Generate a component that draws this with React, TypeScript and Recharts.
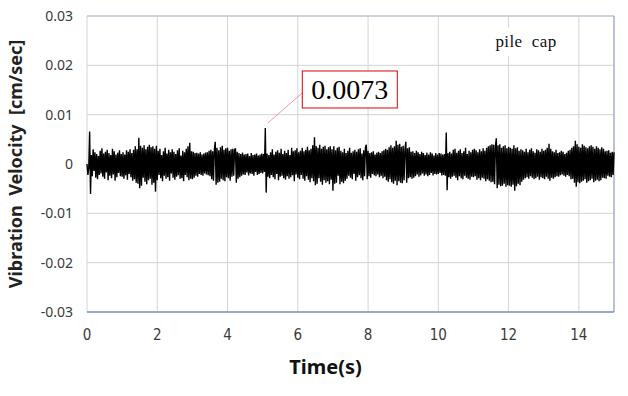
import React from "react";
import { LineChart, Line, XAxis, YAxis, CartesianGrid, ReferenceLine, ReferenceDot } from "recharts";

// Sampling interval of the record (s)
const SAMPLE_INTERVAL = 0.025;

// Vibration velocity, in units of 1e-4 cm/sec, one array per second of record
const sec00 = [0, -22, -8, 66, -61, 18, -25, 30, -14, 24, -28, 20, -31, 16, -22, 27, -19, 32, -26, 21, -30, 25, -17, 29, -33, 22, -24, 18, -29, 31, -21, 26, -34, 19, -27, 23, -18, 28, -25, 20];
const sec01 = [-26, 24, -30, 19, -23, 28, -32, 25, -20, 30, -27, 22, -34, 29, -31, 36, -38, 30, -40, 53, -49, 37, -44, 33, -28, 38, -36, 30, -41, 35, -33, 39, -30, 34, -42, 36, -38, 31, -56, 37];
const sec02 = [-33, 27, -22, 31, -29, 18, -35, 26, -24, 33, -30, 21, -27, 29, -34, 24, -19, 30, -28, 25, -32, 20, -26, 28, -23, 32, -30, 17, -29, 27, -35, 24, -22, 31, -27, 36, -33, 43, -30, 26];
const sec03 = [-31, 25, -28, 22, -24, 23, -26, 21, -20, 24, -22, 19, -24, 21, -19, 23, -21, 24, -23, 27, -25, 29, -31, 26, -34, 30, 45, -42, 33, -38, 28, -36, 34, -30, 37, -33, 29, -35, 32, -27];
const sec04 = [33, -29, 27, -34, 30, -26, 31, -24, 28, 32, -38, 25, -30, 22, -27, 20, -24, 23, -21, 19, -22, 20, -17, 21, -23, 16, -19, 22, -20, 18, -24, 19, -16, 21, -22, 17, -20, 19, -18, 21];
const sec05 = [-19, 20, -16, 73, -58, 21, -26, 18, -29, 24, -22, 30, -27, 19, -31, 25, -20, 28, -33, 23, -26, 31, -24, 20, -29, 27, -32, 22, -25, 29, -30, 18, -27, 33, -23, 26, -35, 28, -21, 32];
const sec06 = [-28, 24, -31, 27, -22, 33, -30, 26, -34, 29, -25, 35, -32, 28, -37, 31, -29, 38, -35, 54, -43, 36, -40, 33, -29, 39, -36, 31, -42, 35, -33, 37, -38, 30, -35, 34, -41, 36, -32, 30];
const sec07 = [-54, 36, -40, 28, -38, 33, -24, 35, -41, 27, -36, 24, -39, 31, -34, 22, -30, 27, -24, 33, -28, 23, -31, 26, -20, 29, -34, 25, -27, 30, -23, 32, -29, 21, -33, 28, -25, 34, 39, -31];
const sec08 = [27, -25, 22, -28, 24, -20, 26, -23, 19, -25, 23, -21, 25, -27, 22, -24, 26, -29, 28, -26, 31, -33, 29, -36, 34, -31, 38, -37, 33, -40, 36, -34, 47, -43, 39, -35, 41, -38, 35, -39];
const sec09 = [37, -33, 30, 45, -38, 32, -29, 34, -27, 25, -30, 26, -28, 22, -25, 27, -21, 24, -26, 20, -23, 25, -19, 22, -24, 18, -21, 23, -25, 19, -22, 24, -18, 21, -23, 17, -20, 22, -21, 19];
const sec10 = [-20, 22, -18, 21, -23, 19, -22, 20, -24, 64, -53, 22, -27, 25, -30, 21, -26, 29, -24, 31, -28, 23, -33, 27, -25, 30, -29, 22, -31, 26, -24, 33, -28, 20, -30, 27, -32, 24, -26, 29];
const sec11 = [-27, 31, -25, 28, -32, 24, -29, 30, -33, 26, -28, 32, -30, 27, -35, 33, -31, 36, -34, 38, -37, 40, -36, 39, -41, 35, 52, -49, 38, -42, 40, -45, 33, -44, 36, -40, 38, -46, 32, -43];
const sec12 = [35, -44, 33, -46, 31, -42, 38, -54, 32, -45, 34, -40, 27, -43, 30, -36, 28, -32, 25, -29, 31, -27, 24, -30, 29, -25, 32, -28, 26, -31, 23, -29, 30, -26, 28, -32, 25, -27, 31, -29];
const sec13 = [27, -31, 29, -26, 33, -30, 41, -34, 31, -28, 26, -30, 24, -27, 29, -25, 22, -26, 24, -23, 27, -21, 25, -24, 20, -26, 23, -22, 27, -25, 29, -31, 33, -30, 36, -38, 47, -46, 40, -37];
const sec14 = [35, -39, 33, -36, 40, -34, 37, -31, 34, -38, 32, -35, 36, -33, 38, -30, 35, -37, 31, -34, 36, -32, 33, -35, 30, -33, 34, -28, 31, -29, 26, -30, 27, -24, 28, -26, 23, -27, 25, -22];
const sec15 = [24];

const xTicks = [0, 2, 4, 6, 8, 10, 12, 14];
const yTicks = [-0.03, -0.02, -0.01, 0, 0.01, 0.02, 0.03];
const yTickLabels = ["-0.03", "-0.02", "-0.01", "0", "0.01", "0.02", "0.03"];

// Annotated peak
const peakTime = 5.075;
const peakValue = 0.0073;
const peakLabel = "0.0073";
const locationLabel = "pile\u00a0\u00a0cap";

const velocityE4 = [
  ...sec00, ...sec01, ...sec02, ...sec03, ...sec04, ...sec05, ...sec06, ...sec07,
  ...sec08, ...sec09, ...sec10, ...sec11, ...sec12, ...sec13, ...sec14, ...sec15,
];

const data = velocityE4.map((v, i) => ({
  t: Math.round(i * SAMPLE_INTERVAL * 1000) / 1000,
  v: v / 10000,
}));

const yFmt = (v: number) => {
  const idx = yTicks.findIndex((t) => Math.abs(t - v) < 1e-9);
  return idx >= 0 ? yTickLabels[idx] : String(v);
};

const PeakCallout = (props: any) => {
  const vb = props.viewBox || {};
  const px = vb.x + (vb.width || 0) / 2;
  const py = vb.y + (vb.height || 0) / 2;
  const bx = px + 37;
  const by = py - 57;
  const bw = 95;
  const bh = 37;
  return (
    <g>
      <line x1={px + 2.5} y1={py - 5} x2={bx} y2={py - 35} stroke="#f29a9a" strokeWidth={1} />
      <rect x={bx} y={by} width={bw} height={bh} fill="#ffffff" stroke="#e00000" strokeWidth={1} />
      <text
        x={bx + bw / 2}
        y={by + bh / 2 + 10}
        textAnchor="middle"
        fontFamily="'Liberation Serif', 'DejaVu Serif', serif"
        fontSize={28}
        fill="#000"
      >
        {peakLabel}
      </text>
    </g>
  );
};

const LocationTag = (props: any) => {
  const vb = props.viewBox || {};
  const rx = vb.x + vb.width;
  const ty = vb.y;
  return (
    <g>
      <rect x={rx - 122} y={ty + 12} width={70} height={28} fill="#ffffff" />
      <text
        x={rx - 88}
        y={ty + 31}
        textAnchor="middle"
        fontFamily="'Liberation Serif', 'DejaVu Serif', serif"
        fontSize={17}
        letterSpacing={0.4}
        fill="#111"
      >
        {locationLabel}
      </text>
    </g>
  );
};

const YTitle = (props: any) => {
  const vb = props.viewBox || {};
  const cx = vb.x + 15;
  const cy = vb.y + vb.height / 2;
  return (
    <text
      x={cx}
      y={cy}
      transform={`rotate(-90 ${cx} ${cy})`}
      textAnchor="middle"
      dominantBaseline="central"
      fontFamily="'Noto Sans', 'Open Sans', sans-serif"
      fontWeight={700}
      fontSize={18}
      fill="#222"
    >
      {"Vibration\u00a0\u00a0Velocity\u00a0\u00a0[cm/sec]"}
    </text>
  );
};

const XTitle = (props: any) => {
  const vb = props.viewBox || {};
  const cx = vb.x + vb.width / 2 - 25;
  const cy = vb.y + 62;
  return (
    <text
      x={cx}
      y={cy}
      textAnchor="middle"
      fontFamily="'Noto Sans', 'Open Sans', sans-serif"
      fontWeight={700}
      fontSize={20}
      fill="#111"
    >
      Time(s)
    </text>
  );
};

export default function App() {
  return (
    <div style={{ position: "absolute", left: 0, top: 0, width: 628, height: 396, background: "#fff" }}>
      <LineChart width={628} height={396} data={data} margin={{ top: 16, right: 14, left: 0, bottom: 0 }}>
        <CartesianGrid stroke="#d4d4d4" strokeWidth={1} />
        <XAxis
          type="number"
          dataKey="t"
          domain={[0, 15]}
          ticks={xTicks}
          height={84}
          tickLine={false}
          tickSize={6}
          tickMargin={11}
          axisLine={{ stroke: "#7f90c6", strokeWidth: 1.5 }}
          tick={{ fill: "#3a3a3a", fontSize: 15, fontFamily: "'Liberation Sans Narrow', 'DejaVu Sans Condensed', 'Noto Sans', sans-serif" }}
          label={{ content: XTitle }}
        />
        <YAxis
          type="number"
          domain={[-0.03, 0.03]}
          ticks={yTicks}
          width={87}
          tickFormatter={yFmt}
          tickLine={false}
          tickSize={6}
          tickMargin={8}
          axisLine={false}
          tick={{ fill: "#3a3a3a", fontSize: 14, fontFamily: "'Noto Sans', 'Open Sans', sans-serif" }}
          label={{ content: YTitle }}
        />
        <ReferenceLine y={0.03} stroke="#b3bbd9" strokeWidth={1} label={{ content: LocationTag }} />
        <ReferenceLine x={15} stroke="#8c9ccc" strokeWidth={1} />
        <Line
          type="linear"
          dataKey="v"
          stroke="#000"
          strokeWidth={1.4}
          dot={false}
          isAnimationActive={false}
        />
        <ReferenceDot x={peakTime} y={peakValue} r={0} fill="none" stroke="none" label={{ content: PeakCallout }} />
      </LineChart>
    </div>
  );
}
